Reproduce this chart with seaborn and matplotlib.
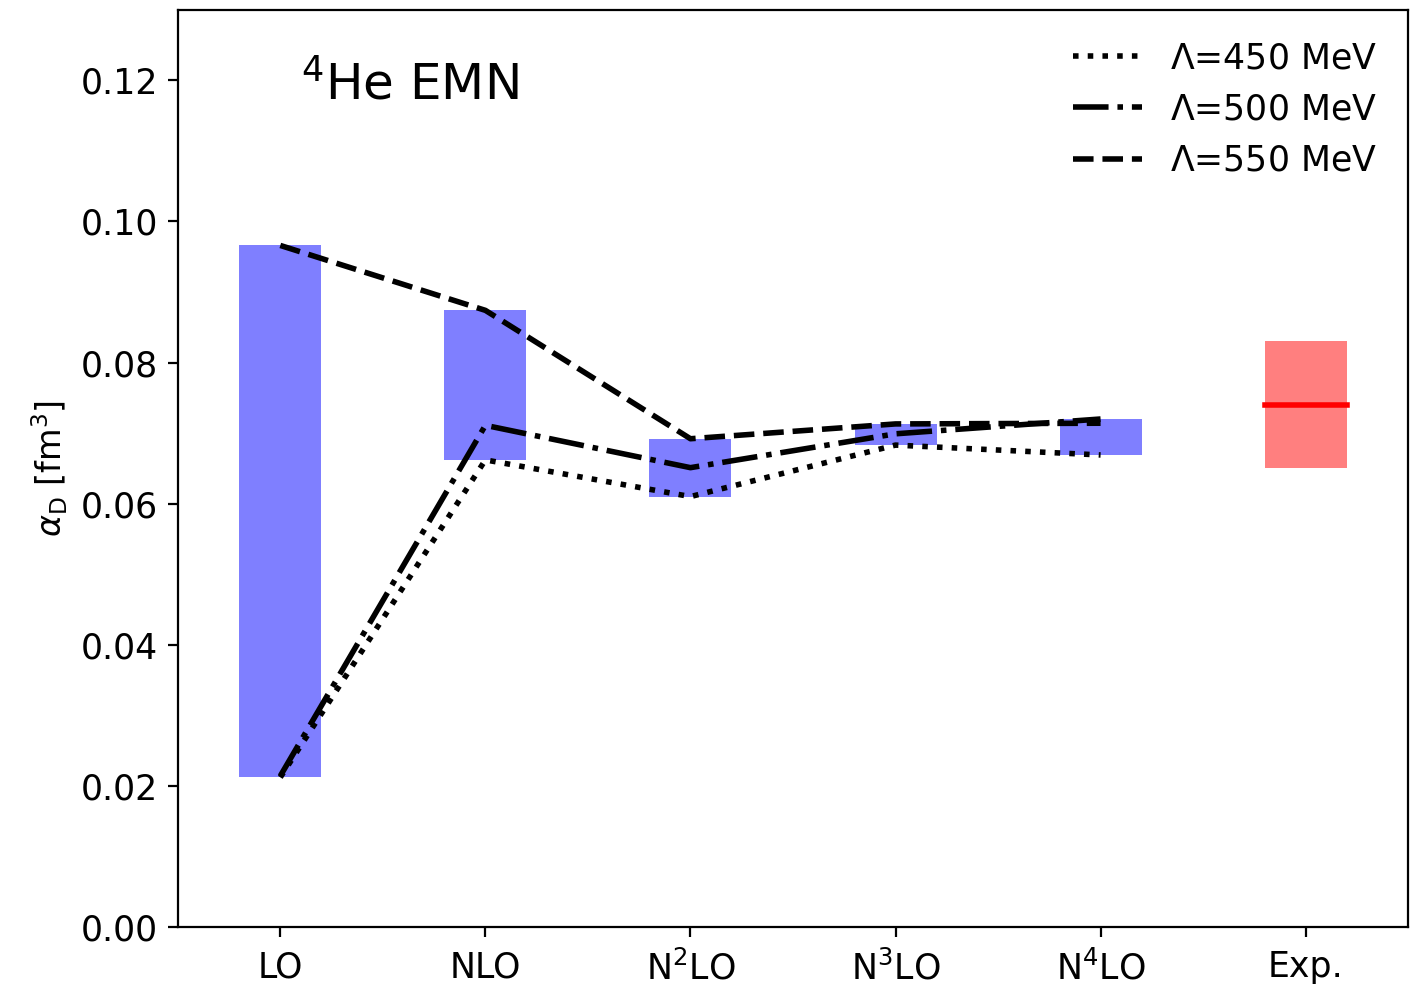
import numpy as np
import pandas as pd
import seaborn as sns
import matplotlib
matplotlib.use("Agg")
import matplotlib.pyplot as plt

# chiral orders (theory) plus experiment
orders = ["LO", "NLO", r"N$^2$LO", r"N$^3$LO", r"N$^4$LO", "Exp."]

# alpha_D [fm^3] for each cutoff, LO..N4LO
lam450 = [0.0212, 0.0662, 0.0610, 0.0683, 0.0669]
lam500 = [0.0214, 0.0711, 0.0651, 0.0699, 0.0720]
lam550 = [0.0966, 0.0874, 0.0692, 0.0713, 0.0714]

exp_value = 0.074
exp_low = 0.065
exp_high = 0.083

series = [
    (r"$\Lambda$=450 MeV", lam450, ":"),
    (r"$\Lambda$=500 MeV", lam500, "-."),
    (r"$\Lambda$=550 MeV", lam550, "--"),
]

fig, ax = plt.subplots(figsize=(7.055, 4.925), dpi=200)
fig.subplots_adjust(left=0.126, right=0.998, top=0.990, bottom=0.059)

pos = np.arange(len(lam450))
df = pd.DataFrame({"pos": pos, "l450": lam450, "l500": lam500, "l550": lam550})

# band spanned by the three cutoffs
lo = df[["l450", "l500", "l550"]].min(axis=1)
hi = df[["l450", "l500", "l550"]].max(axis=1)
ax.bar(pos, hi - lo, bottom=lo, width=0.4, color="blue", alpha=0.5, lw=0)

for label, vals, ls in series:
    sns.lineplot(x=pos, y=vals, ax=ax, color="k", linestyle=ls, lw=2, label=label)

# experiment
xe = len(orders) - 1
ax.bar([xe], [exp_high - exp_low], bottom=exp_low, width=0.4, color="red", alpha=0.5, lw=0)
ax.plot([xe - 0.2, xe + 0.2], [exp_value, exp_value], color="red", lw=2,
        solid_capstyle="projecting")

ax.set_xlim(-0.5, len(orders) - 0.5)
ax.set_ylim(0, 0.13)
ax.set_yticks(np.arange(0, 0.121, 0.02))
ax.set_yticklabels([f"{v:.2f}" for v in np.arange(0, 0.121, 0.02)])
ax.set_xticks(range(len(orders)))
ax.set_xticklabels(orders)
ax.tick_params(labelsize=12.5)
ax.tick_params(axis="x", pad=5)
ax.set_ylabel(r"$\alpha_{\rm D}$ [fm$^3$]", fontsize=12)
ax.set_xlabel("")

ax.text(0.1, 0.918, r"$^4$He EMN", transform=ax.transAxes, fontsize=18,
        va="center", ha="left")
ax.legend(loc="upper right", frameon=False, fontsize=12.5)

fig.savefig("out.png", dpi=200)
